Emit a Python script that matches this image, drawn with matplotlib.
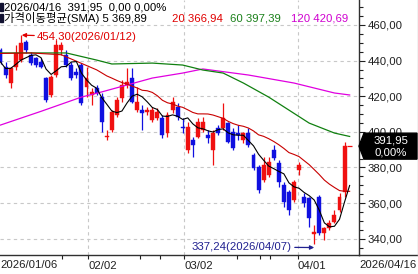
import numpy as np
import pandas as pd
import matplotlib
matplotlib.use("Agg")
import matplotlib.pyplot as plt
from matplotlib.patches import Polygon, Rectangle
from matplotlib.ticker import MultipleLocator, FixedLocator
from matplotlib.transforms import offset_copy

# ---------------- data ----------------
opens = [445.9, 436.4, 427.4, 436.4, 440.3, 450.4, 443.1, 441.5, 439.2, 430.2,
         420.7, 431.9, 445.9, 443.1, 437.5, 433.6, 437.5, 425.2, 420.7, 424.6,
         419.5, 397.1, 401.0, 409.4, 419.0, 426.3, 430.2, 412.2, 412.2, 411.1,
         406.6, 407.7, 407.7, 399.3, 412.2, 413.9, 402.7, 389.8, 395.4, 397.1,
         401.0, 398.2, 389.8, 402.1, 402.1, 404.9, 399.9, 399.3, 395.4, 399.3,
         387.0, 380.2, 372.9, 375.7, 389.8, 382.5, 370.1, 366.2, 361.7, 378.5,
         363.4, 362.8, 342.6, 363.4, 343.1, 345.9, 349.3, 356.0, 366.2, 391.95]
highs = [447.1, 439.2, 436.4, 448.8, 454.3, 451.6, 444.8, 442.0, 441.5, 430.8,
         431.9, 451.6, 450.4, 445.9, 439.2, 435.8, 438.6, 436.4, 424.6, 426.3,
         421.8, 401.0, 412.2, 419.5, 429.1, 435.8, 435.8, 425.2, 415.0, 413.9,
         413.9, 413.4, 409.4, 411.1, 419.5, 416.2, 407.7, 405.5, 397.1, 407.7,
         408.3, 401.0, 401.0, 403.8, 416.2, 405.5, 402.1, 403.8, 399.9, 402.1,
         388.1, 381.3, 385.8, 385.8, 392.6, 384.2, 371.8, 367.3, 372.9, 383.0,
         365.6, 363.4, 347.6, 364.5, 346.5, 350.4, 356.0, 365.6, 394.3, 391.95]
lows = [438.1, 430.2, 424.6, 434.7, 439.2, 444.3, 437.5, 436.4, 435.8, 416.7,
        419.5, 430.8, 443.1, 436.4, 429.1, 430.2, 415.0, 419.5, 415.0, 420.7,
        399.9, 395.4, 399.9, 408.3, 416.7, 424.6, 416.2, 411.1, 401.0, 409.4,
        405.5, 406.6, 396.5, 397.1, 410.5, 406.6, 399.3, 388.1, 385.8, 396.5,
        399.9, 393.7, 381.3, 398.2, 401.0, 393.7, 389.8, 395.4, 393.7, 391.5,
        378.5, 365.6, 371.8, 374.6, 384.2, 369.0, 357.7, 353.2, 360.6, 375.7,
        357.7, 346.5, 337.24, 342.0, 339.2, 344.8, 348.8, 354.9, 363.4, 391.95]
closes = [439.2, 431.9, 435.8, 444.3, 449.9, 445.9, 438.6, 437.5, 436.4, 417.9,
          430.8, 448.8, 448.8, 437.5, 430.2, 431.9, 416.2, 430.2, 422.4, 421.8,
          405.5, 397.6, 411.1, 417.9, 426.3, 428.0, 416.7, 416.7, 410.5, 412.2,
          412.2, 411.1, 398.2, 409.4, 416.7, 408.3, 402.1, 402.7, 392.6, 405.5,
          405.5, 396.5, 399.3, 399.3, 407.7, 394.3, 390.9, 398.2, 399.3, 392.6,
          379.6, 367.3, 381.3, 383.0, 385.3, 371.8, 360.6, 356.0, 371.8, 381.3,
          360.0, 351.6, 343.7, 343.1, 345.9, 348.8, 353.2, 363.4, 391.95, 391.95]

# moving-average lines read at sample candles (longer windows need earlier history)
ma20_early_idx = [0, 6, 12]
ma20_early_val = [444.0, 444.3, 443.3]
ma60_idx = [0, 13, 19, 22, 30, 36, 40, 44, 48, 53, 57, 61, 66, 69]
ma60_val = [444.3, 444.3, 440.3, 438.1, 438.6, 437.5, 434.7, 433.0, 427.4,
            419.5, 412.2, 404.9, 399.3, 397.39]
ma120_idx = [0, 8, 16, 20, 25, 30, 36, 40, 49, 58, 66, 69]
ma120_val = [403.8, 411.5, 419.5, 422.4, 426.3, 430.2, 433.0, 435.3, 431.9,
             427.4, 421.8, 420.69]

header_date = "2026/04/16"
last_price = "391,95"
change = "0,00"
change_pct = "0,00%"
ma_labels = ["5 369,89", "20 366,94", "60 397,39", "120 420,69"]
high_label = "454,30(2026/01/12)"
low_label = "337,24(2026/04/07)"
month_ticks = ["02/02", "03/02", "04/01"]
first_date = "2026/01/06"
last_date = "2026/04/16"
y_ticks = [340, 360, 380, 400, 420, 440, 460]

# ---------------- figure ----------------
W, H = 418, 274
fig = plt.figure(figsize=(W / 100, H / 100), dpi=100)
fig.patch.set_facecolor("white")
ax = fig.add_axes([0, 19 / H, 359 / W, 255 / H])

FONT = ["Liberation Sans Narrow", "Liberation Sans", "Noto Sans CJK KR"]
FS = 8.2

RED = "#f01010"
BLUE = "#1010e0"

o = np.array(opens); h = np.array(highs); l = np.array(lows); c = np.array(closes)
n = len(c)
x = np.arange(n)
up = c >= o
cols = np.where(up, RED, BLUE)

ax.vlines(x, l, h, colors=cols, lw=0.9, zorder=3)
body_lo = np.minimum(o, c)
body_h = np.abs(c - o)
flat = body_h < 1e-9
ax.bar(x[~flat], body_h[~flat], bottom=body_lo[~flat], width=0.78,
       color=cols[~flat], edgecolor=cols[~flat], lw=0.3, zorder=3)
ax.hlines(c[flat], x[flat] - 0.45, x[flat] + 0.45, colors=RED, lw=0.9, zorder=3)

# moving averages
ma5 = pd.Series(closes).rolling(5, min_periods=1).mean().values
ma20_late = pd.Series(closes).rolling(20).mean().values
late = ~np.isnan(ma20_late)
ma20_x = np.concatenate([ma20_early_idx, x[late]])
ma20_y = np.concatenate([ma20_early_val, ma20_late[late]])

ax.plot(ma120_idx, ma120_val, color="#e000e0", lw=0.9, zorder=4)
ax.plot(ma60_idx, ma60_val, color="#108010", lw=0.9, zorder=4)
ax.plot(ma20_x, ma20_y, color="#c80000", lw=0.8, zorder=4)
ax.plot(x, ma5, color="black", lw=0.8, zorder=5)

# scales
ppu = 5.06
ax.set_xlim(-0.1, 359 / ppu - 0.1)
ax.set_ylim(330.8, 474.04)

# axis styling
for s in ["left", "top"]:
    ax.spines[s].set_visible(False)
ax.spines["right"].set_color("#303030")
ax.spines["bottom"].set_color("#303030")
ax.spines["right"].set_linewidth(1.0)
ax.spines["bottom"].set_linewidth(1.0)

ax.yaxis.tick_right()
ax.yaxis.set_major_locator(FixedLocator(y_ticks))
ax.yaxis.set_minor_locator(MultipleLocator(5))
ax.set_yticklabels([f"{v:.2f}".replace(".", ",") for v in y_ticks])
ax.tick_params(axis="y", which="major", direction="out", length=4, width=0.8,
               pad=2, labelsize=FS, colors="#202020")
ax.tick_params(axis="y", which="minor", direction="out", length=3, width=0.8,
               colors="#202020")
for t in ax.get_yticklabels():
    t.set_family(FONT)

month_pos = [17.3, 36.3, 58.7]
minor_pos = [12.1, 27.6, 31.5, 46.7, 51.3, 53.3]
ax.xaxis.set_major_locator(FixedLocator(month_pos))
ax.xaxis.set_minor_locator(FixedLocator(minor_pos))
ax.set_xticklabels(month_ticks)
ax.tick_params(axis="x", which="major", direction="out", length=3, width=0.8,
               pad=1, labelsize=FS, colors="#202020")
ax.tick_params(axis="x", which="minor", direction="out", length=3, width=0.8,
               colors="#202020")
for t in ax.get_xticklabels():
    t.set_ha("left")
    t.set_family(FONT)

ax.grid(True, which="major", color="#c8c8c8", ls=(0, (3, 3)), lw=0.8, zorder=0)
ax.set_axisbelow(True)

# annotations (high / low)
ax.annotate(high_label, xy=(4.2, 454.3), xytext=(37, H - 37),
            textcoords="figure pixels", color="#e00000", fontsize=FS,
            family=FONT, va="center", ha="left",
            arrowprops=dict(arrowstyle="-|>", color="#e00000", lw=0.9,
                            mutation_scale=6, shrinkA=0, shrinkB=0), zorder=6)
low_xy_tr = offset_copy(ax.transData, fig=fig, x=0, y=-4, units="dots")
ax.annotate(low_label, xy=(62, 337.24), xycoords=low_xy_tr,
            xytext=(192, H - 247), textcoords="figure pixels",
            color="#202090", fontsize=FS, family=FONT, va="center", ha="left",
            arrowprops=dict(arrowstyle="-|>", color="#202090", lw=0.9,
                            mutation_scale=6, shrinkA=0, shrinkB=0), zorder=6)

# ---------------- header texts ----------------
def fpx(px, py):
    return px / W, 1 - py / H

fig.patches.append(Rectangle(fpx(0, 11), 3 / W, 8 / H, transform=fig.transFigure,
                             color="#101030", zorder=5))
fig.patches.append(Rectangle(fpx(0, 22), 3 / W, 8 / H, transform=fig.transFigure,
                             color="#101030", zorder=5))
fig.text(*fpx(4, 7.5), f"{header_date}  {last_price}  {change} {change_pct}",
         fontsize=FS, family=FONT, va="center", ha="left", color="black")
fig.text(*fpx(4, 18.5), "가격이동평균(SMA) " + ma_labels[0], fontsize=FS,
         family=FONT, va="center", ha="left", color="black")
fig.text(*fpx(172, 18.5), ma_labels[1], fontsize=FS, family=FONT,
         va="center", ha="left", color="#e00000")
fig.text(*fpx(230, 18.5), ma_labels[2], fontsize=FS, family=FONT,
         va="center", ha="left", color="#1a801a")
fig.text(*fpx(291, 18.5), ma_labels[3], fontsize=FS, family=FONT,
         va="center", ha="left", color="#d000d0")

# bottom date labels
fig.text(*fpx(0, 265), first_date, fontsize=FS, family=FONT, va="center",
         ha="left", color="#202020")
fig.text(*fpx(417, 265), last_date, fontsize=FS, family=FONT, va="center",
         ha="right", color="#202020")

# bottom line across whole width and right border
fig.lines.append(plt.Line2D([359 / W, 1], [19 / H, 19 / H], transform=fig.transFigure,
                            color="#303030", lw=1.0))
fig.lines.append(plt.Line2D([417.5 / W, 417.5 / W], [19 / H, 1], transform=fig.transFigure,
                            color="#c0c0c0", lw=1.0))

# price box
py = ax.transData.transform((0, closes[-1]))[1]
py = H - py
pts = [(359, py), (364, py - 13), (417, py - 13), (417, py + 13), (364, py + 13)]
fig.patches.append(Polygon([fpx(a, b) for a, b in pts], closed=True,
                           transform=fig.transFigure, color="black", zorder=10))
fig.text(*fpx(391, py - 6), last_price, fontsize=FS, family=FONT, va="center",
         ha="center", color="white", zorder=11)
fig.text(*fpx(391, py + 6), change_pct, fontsize=FS, family=FONT, va="center",
         ha="center", color="white", zorder=11)

fig.savefig("out.png", dpi=100)
